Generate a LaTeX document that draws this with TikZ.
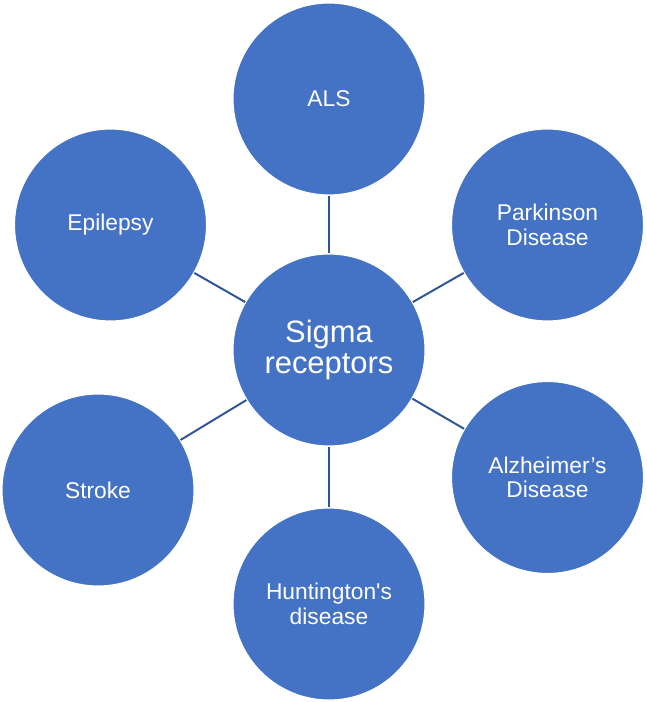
\documentclass[tikz,border=0pt]{standalone}
\usepackage{fontspec}
\setmainfont{Liberation Sans}
\definecolor{diseasefill}{HTML}{4472C4}
\definecolor{linkline}{HTML}{2F5597}
\tikzset{
  disease/.style={circle, fill=diseasefill, draw=white, line width=0.8pt,
    minimum size=4.8cm, inner sep=0pt, align=center, text=white,
    font=\fontsize{16.2pt}{17.4pt}\selectfont},
  hub/.style={disease, font=\fontsize{22pt}{22.4pt}\selectfont},
  link/.style={draw=linkline, line width=1.4pt}
}
\begin{document}
\begin{tikzpicture}
  \useasboundingbox (-8.225,8.75) rectangle (7.925,-8.8);
  % hub
  \node[hub] (S) at (0,0) {Sigma\\receptors};
  % outer circles
  \node[disease] (ALS) at (0,6.275) {ALS};
  \node[disease] (PD) at (5.4625,3.125) {Parkinson\\Disease};
  \node[disease] (AD) at (5.4625,-3.1875) {Alzheimer’s\\Disease};
  \node[disease] (HD) at (0,-6.35) {Huntington\textquotesingle s\\disease};
  \node[disease] (ST) at (-5.775,-3.5) {Stroke};
  \node[disease] (EP) at (-5.4625,3.125) {Epilepsy};
  % links
  \draw[link] (S) -- (ALS);
  \draw[link] (S) -- (PD);
  \draw[link] (S) -- (AD);
  \draw[link] (S) -- (HD);
  \draw[link] (S) -- (ST);
  \draw[link] (S) -- (EP);
\end{tikzpicture}
\end{document}
